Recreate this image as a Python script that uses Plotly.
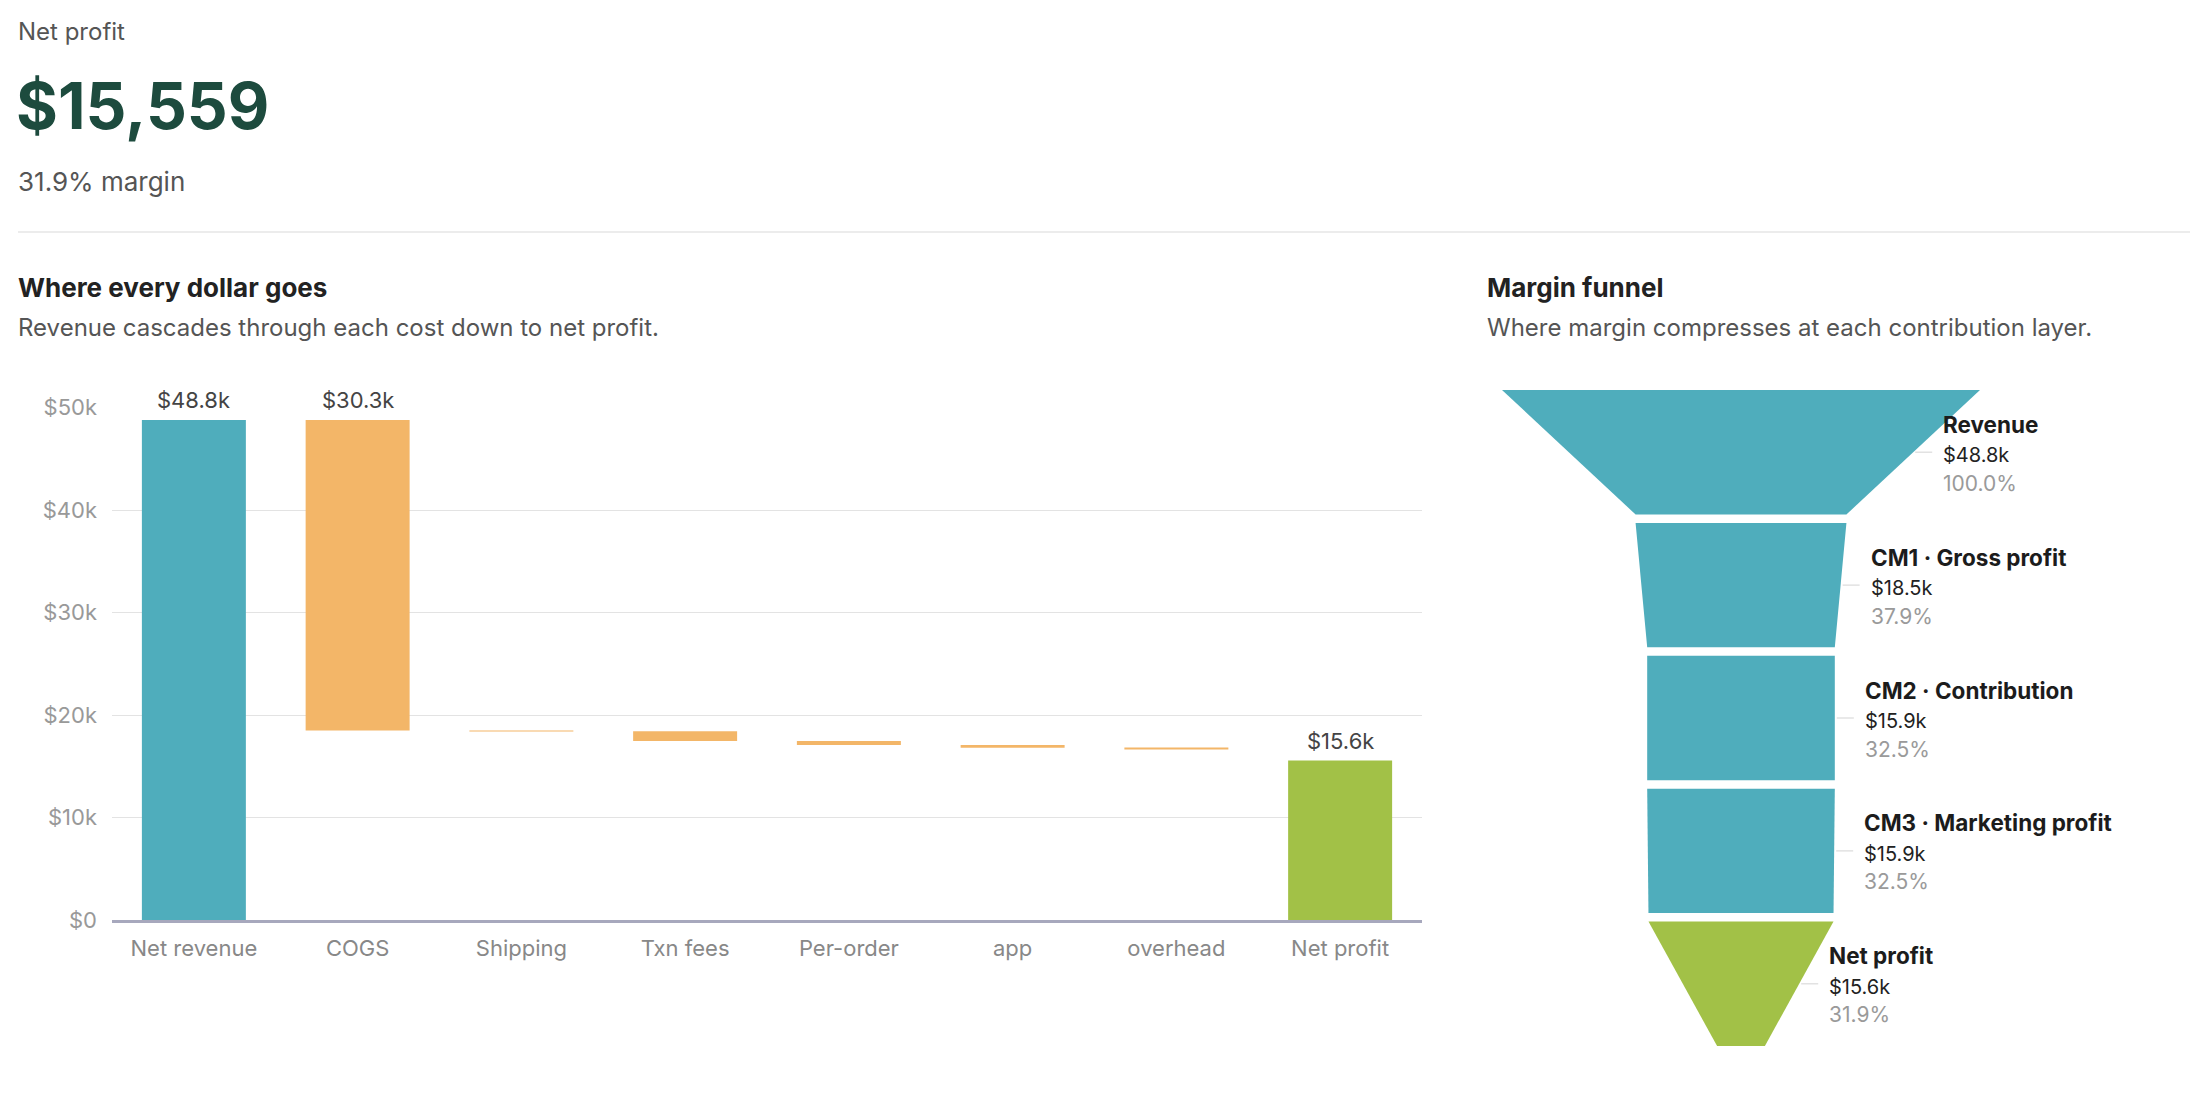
import plotly.graph_objects as go

# ---------------- data ----------------
kpi_label = "Net profit"
net_profit_value = 15559
margin_pct = 31.9

wf_categories = ["Net revenue", "COGS", "Shipping", "Txn fees", "Per-order", "app", "overhead", "Net profit"]
wf_values = [48775, 30289, 62, 950, 400, 260, 170, 15559]
wf_kinds = ["revenue", "cost", "cost", "cost", "cost", "cost", "cost", "profit"]
wf_labeled = [True, True, False, False, False, False, False, True]

funnel_stages = ["Revenue", "CM1 · Gross profit", "CM2 · Contribution", "CM3 · Marketing profit", "Net profit"]
funnel_values = [48775, 18486, 15852, 15852, 15559]
funnel_kinds = ["layer", "layer", "layer", "layer", "profit"]

# ---------------- style ----------------
W, H = 2190, 1100
FONT = "Inter"
TEAL = "#4fadbc"
ORANGE = "#f3b668"
GREEN = "#a2c147"
kind_color = {"revenue": TEAL, "cost": ORANGE, "profit": GREEN, "layer": TEAL}

def px_x(p):
    return p / W

def px_y(p):
    return 1 - p / H

def fmt_k(v):
    return f"${v/1000:.1f}k"

fig = go.Figure()

# ---------------- waterfall (bars with base) ----------------
bases, heights = [], []
running = 0
for v, k in zip(wf_values, wf_kinds):
    if k == "cost":
        running -= v
        bases.append(running)
        heights.append(v)
    else:
        bases.append(0)
        heights.append(v)
        running = v

fig.add_trace(go.Bar(
    x=wf_categories, y=heights, base=bases,
    marker=dict(color=[kind_color[k] for k in wf_kinds], line=dict(width=0)),
    hoverinfo="skip", showlegend=False, xaxis="x", yaxis="y",
))

annotations = []
for cat, b, h, lab in zip(wf_categories, bases, heights, wf_labeled):
    if lab:
        annotations.append(dict(
            x=cat, y=b + h, xref="x", yref="y", text=fmt_k(h), showarrow=False,
            yanchor="bottom", yshift=5, font=dict(family=FONT, size=22, color="#444"),
        ))

# ---------------- funnel (trapezoids) ----------------
SEG_H, SEG_GAP = 124.5, 8.4
MAX_W, MIN_W = 478.0, 47.8
n = len(funnel_values)
total_h = n * SEG_H + (n - 1) * SEG_GAP

def half_w(p):
    return (MIN_W + (MAX_W - MIN_W) * p) / 2

for i, (stage, v, k) in enumerate(zip(funnel_stages, funnel_values, funnel_kinds)):
    p_top = v / funnel_values[0]
    p_bot = funnel_values[i + 1] / funnel_values[0] if i + 1 < n else 0
    top = i * (SEG_H + SEG_GAP)
    bot = top + SEG_H
    ht, hb = half_w(p_top), half_w(p_bot)
    fig.add_trace(go.Scatter(
        x=[-ht, ht, hb, -hb, -ht], y=[top, top, bot, bot, top],
        fill="toself", fillcolor=kind_color[k], mode="lines", line=dict(width=0),
        hoverinfo="skip", showlegend=False, xaxis="x2", yaxis="y2",
    ))
    mid = top + SEG_H / 2
    edge = (ht + hb) / 2
    fig.add_trace(go.Scatter(
        x=[edge + 2, edge + 19], y=[mid, mid], mode="lines",
        line=dict(color="#e2e2e2", width=1.5), hoverinfo="skip", showlegend=False,
        xaxis="x2", yaxis="y2",
    ))
    lx = edge + 28
    annotations += [
        dict(x=lx, y=mid, xref="x2", yref="y2", text=f"<b>{stage}</b>", showarrow=False,
             xanchor="left", yanchor="middle", yshift=28,
             font=dict(family=FONT, size=22.5, color="#1c1c1c")),
        dict(x=lx, y=mid, xref="x2", yref="y2", text=fmt_k(v), showarrow=False,
             xanchor="left", yanchor="middle", yshift=-3,
             font=dict(family=FONT, size=20, color="#222")),
        dict(x=lx, y=mid, xref="x2", yref="y2", text=f"{v / funnel_values[0] * 100:.1f}%",
             showarrow=False, xanchor="left", yanchor="middle", yshift=-31,
             font=dict(family=FONT, size=21, color="#9a9a9a")),
    ]

# ---------------- header & titles ----------------
def text_ann(txt, x, y, size, color, bold=False):
    return dict(x=px_x(x), y=px_y(y), xref="paper", yref="paper", text=txt,
                showarrow=False, xanchor="left", yanchor="middle",
                font=dict(family=FONT, size=size, color=color,
                          weight="bold" if bold else "normal"))

annotations += [
    text_ann(kpi_label, 16, 32, 24, "#555"),
    text_ann(f"${net_profit_value:,}", 14, 105, 64, "#1d4b3e", bold=True),
    text_ann(f"{margin_pct:.1f}% margin", 16, 181, 26, "#555"),
    text_ann("Where every dollar goes", 16, 287, 26, "#222", bold=True),
    text_ann("Revenue cascades through each cost down to net profit.", 16, 327, 24, "#555"),
    text_ann("Margin funnel", 1485, 287, 26, "#222", bold=True),
    text_ann("Where margin compresses at each contribution layer.", 1485, 327, 24, "#555"),
]

shapes = [dict(type="line", xref="paper", yref="paper", x0=px_x(18), x1=1,
               y0=px_y(232), y1=px_y(232), line=dict(color="#e6e6e6", width=1.5))]

fig.update_layout(
    width=W, height=H, margin=dict(l=0, r=0, t=0, b=0, autoexpand=False),
    paper_bgcolor="white", plot_bgcolor="white",
    font=dict(family=FONT),
    bargap=0.365,
    annotations=annotations, shapes=shapes,
    xaxis=dict(domain=[px_x(112), px_x(1422)], showgrid=False, showline=True,
               linecolor="#a7a8bd", linewidth=3, ticks="", ticklabelstandoff=7,
               automargin=False,
               tickfont=dict(family=FONT, size=22, color="#888"), fixedrange=True),
    yaxis=dict(domain=[px_y(920), px_y(407.5)], range=[0, 50000], dtick=10000,
               tickprefix="$", tickformat="~s", showgrid=True, gridcolor="#e3e3e3",
               gridwidth=1, zeroline=False, showline=False, ticks="", ticklabelstandoff=14,
               automargin=False,
               tickfont=dict(family=FONT, size=22, color="#999"), fixedrange=True),
    xaxis2=dict(domain=[px_x(1460), 1.0], range=[-281, 449], visible=False,
                anchor="y2", fixedrange=True),
    yaxis2=dict(domain=[px_y(1046), px_y(390)], range=[total_h, 0], visible=False,
                anchor="x2", fixedrange=True),
)

fig.write_html("out.html", config={"displayModeBar": False},
               post_script="document.body.style.margin='0px';")
